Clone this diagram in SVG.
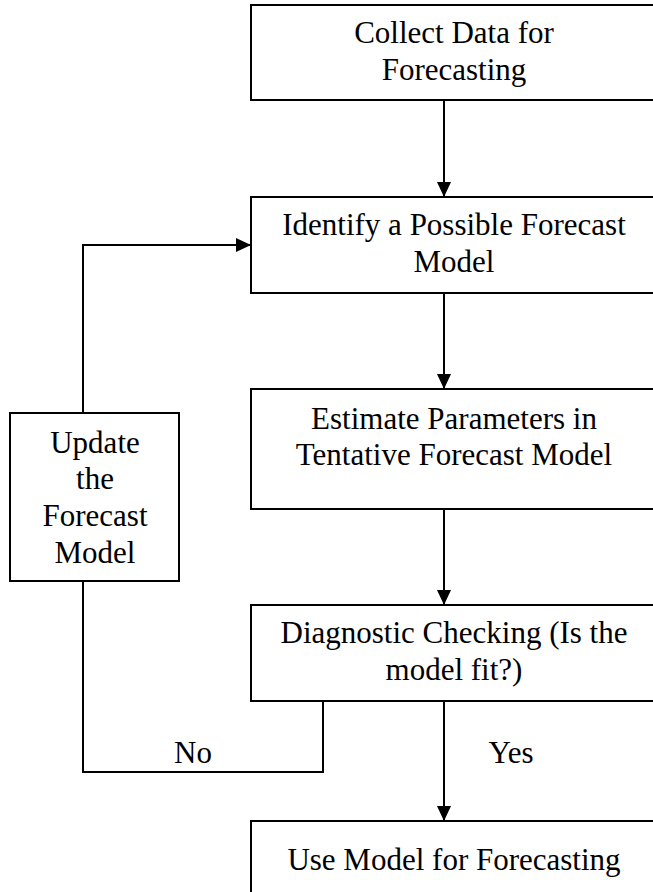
<svg xmlns="http://www.w3.org/2000/svg" width="653" height="892" viewBox="0 0 653 892">
  <defs>
    <marker id="arrow" markerUnits="userSpaceOnUse" markerWidth="15" markerHeight="14" refX="15" refY="7" orient="auto">
      <path d="M0,0 L15,7 L0,14 z" fill="#000000"/>
    </marker>
  </defs>

  <rect width="653" height="892" fill="#ffffff"/>

  <!-- connectors -->
  <g id="connectors" fill="none" stroke="#000000" stroke-width="2">
    <line x1="444" y1="100" x2="444" y2="197" marker-end="url(#arrow)"/>
    <line x1="444" y1="293" x2="444" y2="389" marker-end="url(#arrow)"/>
    <line x1="444" y1="509" x2="444" y2="605" marker-end="url(#arrow)"/>
    <line x1="444" y1="701" x2="444" y2="821" marker-end="url(#arrow)"/>
    <!-- "No" branch back to the update step -->
    <polyline points="323,701 323,772 83,772 83,581"/>
    <!-- update step back to model identification -->
    <polyline points="83,413 83,245 251,245" marker-end="url(#arrow)"/>
  </g>
  <g id="branch-labels" fill="#000000">
    <text x="193" y="763" font-size="31" text-anchor="middle" style="font-family:'Liberation Serif'">No</text>
    <text x="511" y="763" font-size="31" text-anchor="middle" style="font-family:'Liberation Serif'">Yes</text>
  </g>

  <g id="collect-data">
    <rect x="251" y="5" width="420" height="95" fill="#ffffff" stroke="#000000" stroke-width="2"/>
    <text x="454" y="43" font-size="31" text-anchor="middle" style="font-family:'Liberation Serif'">Collect Data for</text>
    <text x="454" y="80" font-size="31" text-anchor="middle" style="font-family:'Liberation Serif'">Forecasting</text>
  </g>

  <g id="identify-model">
    <rect x="251" y="197" width="420" height="96" fill="#ffffff" stroke="#000000" stroke-width="2"/>
    <text x="454" y="235" font-size="31" text-anchor="middle" style="font-family:'Liberation Serif'">Identify a Possible Forecast</text>
    <text x="454" y="272" font-size="31" text-anchor="middle" style="font-family:'Liberation Serif'">Model</text>
  </g>

  <g id="estimate-parameters">
    <rect x="251" y="389" width="420" height="120" fill="#ffffff" stroke="#000000" stroke-width="2"/>
    <text x="454" y="429" font-size="31" text-anchor="middle" style="font-family:'Liberation Serif'">Estimate Parameters in</text>
    <text x="454" y="465" font-size="31" text-anchor="middle" style="font-family:'Liberation Serif'">Tentative Forecast Model</text>
  </g>

  <g id="diagnostic-checking">
    <rect x="251" y="605" width="420" height="96" fill="#ffffff" stroke="#000000" stroke-width="2"/>
    <text x="454" y="643" font-size="31" text-anchor="middle" style="font-family:'Liberation Serif'">Diagnostic Checking (Is the</text>
    <text x="454" y="680" font-size="31" text-anchor="middle" style="font-family:'Liberation Serif'">model fit?)</text>
  </g>

  <g id="use-model">
    <rect x="251" y="821" width="420" height="100" fill="#ffffff" stroke="#000000" stroke-width="2"/>
    <text x="454" y="870" font-size="31" text-anchor="middle" style="font-family:'Liberation Serif'">Use Model for Forecasting</text>
  </g>

  <g id="update-model">
    <rect x="10" y="413" width="169" height="168" fill="#ffffff" stroke="#000000" stroke-width="2"/>
    <text x="95" y="453" font-size="31" text-anchor="middle" style="font-family:'Liberation Serif'">Update</text>
    <text x="95" y="489" font-size="31" text-anchor="middle" style="font-family:'Liberation Serif'">the</text>
    <text x="95" y="526" font-size="31" text-anchor="middle" style="font-family:'Liberation Serif'">Forecast</text>
    <text x="95" y="563" font-size="31" text-anchor="middle" style="font-family:'Liberation Serif'">Model</text>
  </g>
</svg>
